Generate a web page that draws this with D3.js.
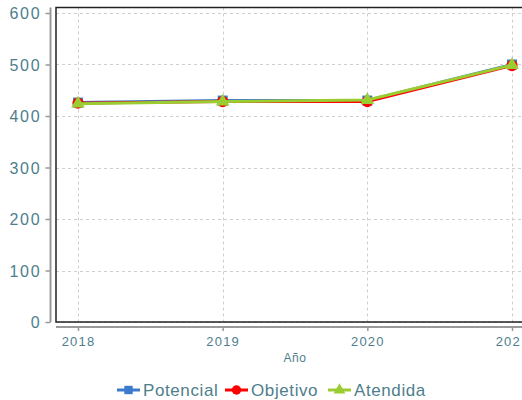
<!DOCTYPE html>
<html>
<head>
<meta charset="utf-8">
<script src="https://cdn.jsdelivr.net/npm/d3@7"></script>
<style>
  html, body { margin: 0; padding: 0; background: #fff; overflow: hidden; }
  svg { display: block; font-family: "Liberation Sans", Arial, sans-serif; }
</style>
</head>
<body>
<svg id="chart" width="540" height="400"></svg>
<script>
// datos
var years = [2018, 2019, 2020, 2021];
var potencial = [426, 430, 430, 500];
var objetivo = [425, 428, 428, 498];
var atendida = [424, 428, 431, 499];
var yTicks = [0, 100, 200, 300, 400, 500, 600];

var seriesNames = ['Potencial', 'Objetivo', 'Atendida'];
var seriesValues = [potencial, objetivo, atendida];
var seriesColors = ['#3d7acb', '#ff0000', '#9acd32'];
var seriesSymbols = [d3.symbolSquare, d3.symbolCircle, d3.symbolTriangle];

var textColor = '#4e7e8c';
var svg = d3.select('#chart');

var plotLeft = 56, plotTop = 7.5, plotRight = 534, plotBottom = 322;

var x = d3.scaleLinear().domain([2018, 2021]).range([78, 512]);
var y = d3.scaleLinear().domain([0, 600]).range([plotBottom, 13]);

// rejilla
var grid = svg.append('g').attr('stroke', '#cfcfcf').attr('stroke-dasharray', '3,3').attr('stroke-width', 1);
grid.selectAll('line.h').data(yTicks).enter().append('line')
  .attr('x1', plotLeft).attr('x2', plotRight)
  .attr('y1', function (d) { return Math.round(y(d)) + 0.5; })
  .attr('y2', function (d) { return Math.round(y(d)) + 0.5; });
grid.selectAll('line.v').data(years).enter().append('line')
  .attr('y1', plotTop).attr('y2', plotBottom)
  .attr('x1', function (d) { return Math.round(x(d)) + 0.5; })
  .attr('x2', function (d) { return Math.round(x(d)) + 0.5; });

// marco
svg.append('rect')
  .attr('x', plotLeft).attr('y', plotTop)
  .attr('width', plotRight - plotLeft).attr('height', plotBottom - plotTop)
  .attr('fill', 'none').attr('stroke', '#222').attr('stroke-width', 1.5);

// eje y
var yAxis = svg.append('g')
  .attr('transform', 'translate(50.5,0)')
  .call(d3.axisLeft(y).tickValues(yTicks).tickSize(5).tickPadding(4));
yAxis.select('.domain').attr('stroke', '#999').attr('stroke-width', 2)
  .attr('d', 'M0,' + plotTop + 'V' + plotBottom);
yAxis.selectAll('.tick line').attr('stroke', '#999').attr('stroke-width', 1.5);
yAxis.selectAll('.tick text')
  .attr('fill', textColor).style('font-size', '16px').style('letter-spacing', '1.8px')
  .attr('dy', '0.36em');

// eje x
var xAxis = svg.append('g')
  .attr('transform', 'translate(0,327)')
  .call(d3.axisBottom(x).tickValues(years).tickFormat(d3.format('d')).tickSize(4).tickPadding(6));
xAxis.select('.domain').attr('stroke', '#999').attr('stroke-width', 2)
  .attr('d', 'M' + plotLeft + ',0H' + plotRight);
xAxis.selectAll('.tick line').attr('stroke', '#999').attr('stroke-width', 1.5);
xAxis.selectAll('.tick text')
  .attr('fill', textColor).style('font-size', '13px').style('letter-spacing', '1.2px');

svg.append('text')
  .attr('x', 295).attr('y', 362)
  .attr('text-anchor', 'middle')
  .attr('fill', textColor).style('font-size', '12px').style('letter-spacing', '0.5px')
  .text('Año');

// series
var line = d3.line()
  .x(function (d, i) { return x(years[i]); })
  .y(function (d) { return y(d); });

seriesValues.forEach(function (vals, k) {
  var g = svg.append('g');
  g.append('path')
    .datum(vals)
    .attr('d', line)
    .attr('fill', 'none')
    .attr('stroke', seriesColors[k])
    .attr('stroke-width', 3);
  g.selectAll('path.m').data(vals).enter().append('path')
    .attr('transform', function (d, i) { return 'translate(' + x(years[i]) + ',' + y(d) + ')'; })
    .attr('d', d3.symbol().type(seriesSymbols[k]).size(k === 2 ? 80 : 100))
    .attr('fill', seriesColors[k]);
});

// leyenda
var legendX = [117, 225, 328];
var legend = svg.append('g');
seriesNames.forEach(function (name, k) {
  var lg = legend.append('g').attr('transform', 'translate(' + legendX[k] + ',390)');
  lg.append('line').attr('x1', 0).attr('x2', 23).attr('y1', 0).attr('y2', 0)
    .attr('stroke', seriesColors[k]).attr('stroke-width', 3);
  lg.append('path').attr('transform', 'translate(11.5,0)')
    .attr('d', d3.symbol().type(seriesSymbols[k]).size(k === 2 ? 60 : 70))
    .attr('fill', seriesColors[k]);
  lg.append('text').attr('x', 26).attr('y', 0).attr('dy', '0.35em')
    .attr('fill', textColor).style('font-size', '17px').style('letter-spacing', '0.6px')
    .text(name);
});
</script>
</body>
</html>
